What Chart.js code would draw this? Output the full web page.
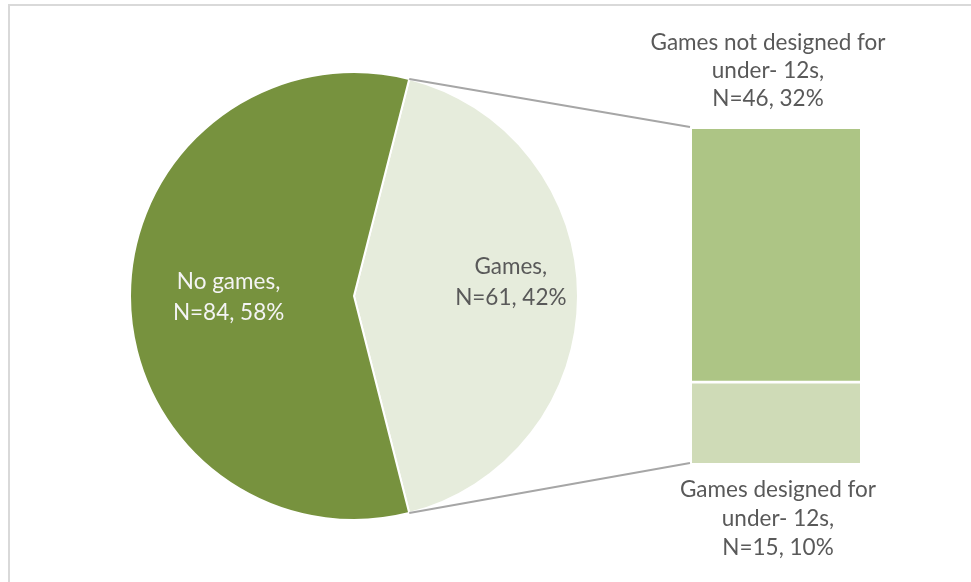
<!DOCTYPE html>
<html>
<head>
<meta charset="utf-8">
<script src="https://cdn.jsdelivr.net/npm/chart.js@4.4.1/dist/chart.umd.min.js"></script>
<style>
    html, body { margin: 0; padding: 0; background: #fff; overflow: hidden; }
    #frame {
        position: absolute; left: 8px; top: 4px; width: 1000px; height: 620px;
        border-top: 2px solid #d9d9d9; border-left: 2px solid #d9d9d9;
    }
    canvas { position: absolute; left: 0; top: 0; }
</style>
</head>
<body>
<div id="frame"></div>
<canvas id="pieChart" width="971" height="582"></canvas>
<canvas id="barChart" width="971" height="582"></canvas>
<script>
// Pie: games vs no games
const pieNames = ['Games', 'No games'];
const pieCounts = [61, 84];
const piePercents = [42, 58];

// Bar: split of the "Games" slice (bottom to top)
const barNames = [
    ['Games designed for', 'under- 12s'],
    ['Games not designed for', 'under- 12s']
];
const barCounts = [15, 46];
const barPercents = [10, 32];

const COLORS = {
    pie: ['#e6ecdc', '#77923e'],
    bar: ['#cfdbb7', '#adc585'],
    pieText: ['#595959', '#f4f4f4'],
    text: '#595959',
    connector: '#a6a6a6'
};
const FONT = '22.5px Lato, "Open Sans", sans-serif';

const $ = id => document.getElementById(id);
const total = pieCounts.reduce((a, b) => a + b);
const splitTotal = barCounts.reduce((a, b) => a + b);

const drawLines = (ctx, lines, x, y, lh, color) => {
    ctx.save();
    ctx.font = FONT;
    ctx.fillStyle = color;
    ctx.textAlign = 'center';
    ctx.textBaseline = 'middle';
    lines.forEach((t, i) => ctx.fillText(t, x, y + i * lh));
    ctx.restore();
};

// labels inside the pie slices
const pieLabelPos = [{ r: .70, dy: -14 }, { r: .56, dy: 1 }];
const pieLabelPlugin = {
    id: 'pieLabels',
    afterDatasetsDraw(chart) {
        const ctx = chart.ctx;
        chart.getDatasetMeta(0).data.forEach((arc, i) => {
            const mid = (arc.startAngle + arc.endAngle) / 2;
            const p = pieLabelPos[i];
            const x = arc.x + Math.cos(mid) * arc.outerRadius * p.r;
            const y = arc.y + Math.sin(mid) * arc.outerRadius * p.r + p.dy;
            const lines = [pieNames[i] + ',', `N=${pieCounts[i]}, ${piePercents[i]}%`];
            drawLines(ctx, lines, x, y - 15.5, 31, COLORS.pieText[i]);
        });
    }
};

const pieChart = new Chart($('pieChart').getContext('2d'), {
    type: 'pie',
    data: {
        labels: pieNames,
        datasets: [{
            data: pieCounts,
            backgroundColor: COLORS.pie,
            borderColor: '#fff',
            borderWidth: 2
        }]
    },
    options: {
        responsive: false,
        animation: false,
        devicePixelRatio: 1,
        // keep the "Games" slice centred on the right-hand side
        rotation: 90 - pieCounts[0] / total * 180,
        layout: { padding: { left: 129, right: 392, top: 71, bottom: 61 } },
        plugins: { legend: { display: false }, tooltip: { enabled: false } }
    },
    plugins: [pieLabelPlugin]
});

// connector lines + labels for the stacked bar
const barExtras = {
    id: 'barExtras',
    beforeDatasetsDraw(chart) {
        const ctx = chart.ctx;
        const arc = pieChart.getDatasetMeta(0).data[0];
        const bottom = chart.getDatasetMeta(0).data[0];
        const top = chart.getDatasetMeta(1).data[0];
        const left = top.x - top.width / 2;
        const pt = a => [arc.x + Math.cos(a) * arc.outerRadius, arc.y + Math.sin(a) * arc.outerRadius];
        const [sx, sy] = pt(arc.startAngle);
        const [ex, ey] = pt(arc.endAngle);
        ctx.save();
        ctx.strokeStyle = COLORS.connector;
        ctx.lineWidth = 2;
        ctx.beginPath();
        ctx.moveTo(sx, sy); ctx.lineTo(left - 2, top.y - 2);
        ctx.moveTo(ex, ey); ctx.lineTo(left - 2, bottom.base);
        ctx.stroke();
        ctx.restore();
    },
    afterDatasetsDraw(chart) {
        const ctx = chart.ctx;
        const bottom = chart.getDatasetMeta(0).data[0];
        const top = chart.getDatasetMeta(1).data[0];
        const topLines = [barNames[1][0], barNames[1][1] + ',', `N=${barCounts[1]}, ${barPercents[1]}%`];
        const botLines = [barNames[0][0], barNames[0][1] + ',', `N=${barCounts[0]}, ${barPercents[0]}%`];
        drawLines(ctx, topLines, top.x - 8, top.y - 86, 28, COLORS.text);
        drawLines(ctx, botLines, bottom.x + 2, bottom.base + 27, 29, COLORS.text);
    }
};

new Chart($('barChart').getContext('2d'), {
    type: 'bar',
    data: {
        labels: ['Games'],
        datasets: barCounts.map((v, i) => ({
            label: barNames[i].join(' '),
            data: [v],
            backgroundColor: COLORS.bar[i],
            borderColor: '#fff',
            borderWidth: i === 0 ? { top: 3, right: 0, bottom: 0, left: 0 } : 0,
            borderSkipped: false,
            barPercentage: 1,
            categoryPercentage: 1
        }))
    },
    options: {
        responsive: false,
        animation: false,
        devicePixelRatio: 1,
        layout: { padding: { left: 692, right: 111, top: 129, bottom: 119 } },
        scales: {
            x: { display: false, stacked: true },
            y: { display: false, stacked: true, min: 0, max: splitTotal }
        },
        plugins: { legend: { display: false }, tooltip: { enabled: false } }
    },
    plugins: [barExtras]
});
</script>
</body>
</html>
